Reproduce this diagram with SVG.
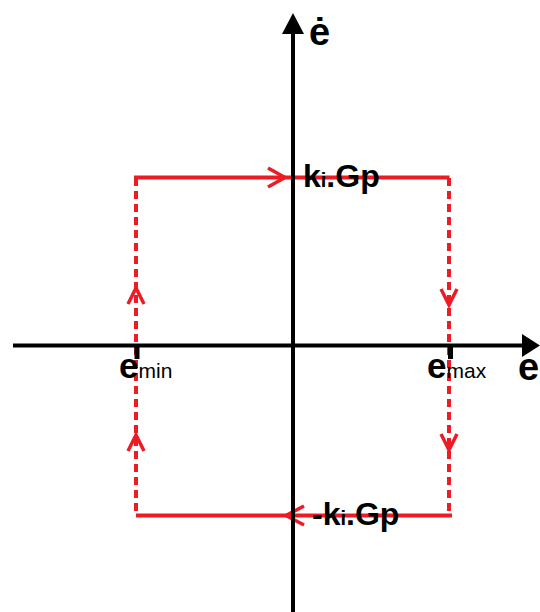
<svg xmlns="http://www.w3.org/2000/svg" width="540" height="612" viewBox="0 0 540 612">
<style>
.axis{stroke:#000;stroke-width:4;fill:none}
.tick{stroke:#000;stroke-width:5;fill:none}
.solid{stroke:#ED1C24;stroke-width:4;fill:none}
.dash{stroke:#ED1C24;stroke-width:4;fill:none;stroke-dasharray:8 5}
.chev{stroke:#ED1C24;stroke-width:3.5;fill:none;stroke-linejoin:miter}
.lbl{font-family:"Liberation Sans",Arial,sans-serif;font-weight:bold;fill:#000}
</style>
<rect width="540" height="612" fill="#fff"/>
<g id="connectors">
  <path class="dash" d="M136 178 V516"/>
  <path class="dash" d="M449 178 V516"/>
  <path class="solid" d="M134 177.5 H449.5"/>
  <path class="solid" d="M136 515.5 H452"/>
  <path class="chev" d="M268 168 L285 177.5 L268 187"/>
  <path class="chev" d="M304 506 L286 515.5 L304 525"/>
  <path class="chev" d="M128 304 L136 288 L144 304"/>
  <path class="chev" d="M128 451 L136 435 L144 451"/>
  <path class="chev" d="M441 289 L449 305 L457 289"/>
  <path class="chev" d="M441 434 L449 450 L457 434"/>
</g>
<g id="axes">
  <path class="axis" d="M293 30 V612"/>
  <path d="M282 34 L293 13 L304 34 Z" fill="#000"/>
  <path class="axis" d="M13 345.5 H524"/>
  <path d="M522 334 L540 345.5 L522 357 Z" fill="#000"/>
  <path class="tick" d="M137 346 V359"/>
  <path class="tick" d="M450.5 346 V359"/>
</g>
<g id="label-edot"><text class="lbl" x="309" y="45" font-size="38">ė</text></g>
<g id="label-e"><text class="lbl" x="518" y="380" font-size="38">e</text></g>
<g id="label-emin"><text class="lbl" x="119" y="378" font-size="35">e<tspan font-size="21" font-weight="normal">min</tspan></text></g>
<g id="label-emax"><text class="lbl" x="427" y="378" font-size="35">e<tspan font-size="21" font-weight="normal">max</tspan></text></g>
<g id="label-top"><text class="lbl" x="303" y="187" font-size="32">k<tspan font-size="20">i</tspan>.Gp</text></g>
<g id="label-bottom"><text class="lbl" x="312" y="525" font-size="32">-k<tspan font-size="20">i</tspan>.Gp</text></g>
</svg>
